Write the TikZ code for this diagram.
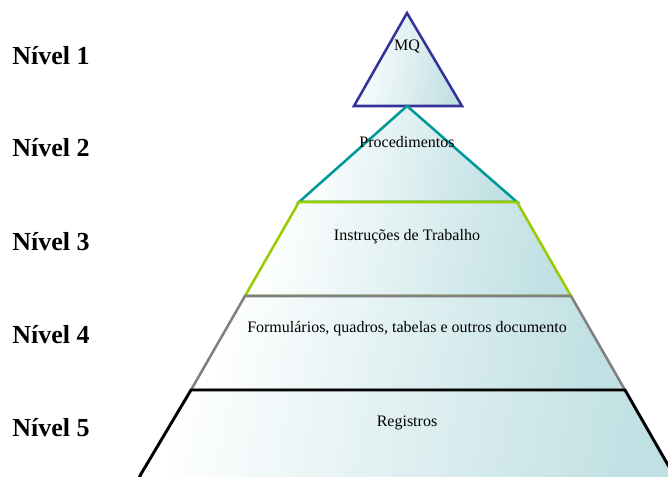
\documentclass[tikz,border=0pt]{standalone}
\usepackage{fontspec}
\setmainfont{Liberation Serif}
\begin{document}
\begin{tikzpicture}[x=0.75pt,y=-0.75pt,
  lvl/.style={left color=white, right color=tealfill, shading angle=80, line width=1.9pt, line join=miter},
  lbl/.style={font=\fontsize{19.5}{21}\selectfont\bfseries, anchor=west, inner sep=0pt},
  txt/.style={font=\fontsize{12}{14}\selectfont, text=black, inner sep=0pt}]
\definecolor{tealfill}{RGB}{192,224,227}
\definecolor{c1}{RGB}{51,51,153}
\definecolor{c2}{RGB}{0,153,153}
\definecolor{c3}{RGB}{153,204,0}
\definecolor{c4}{RGB}{128,128,128}
\useasboundingbox (0,0) rectangle (668,477);
\begin{scope}
\clip (0,0) rectangle (668,477);
\draw[lvl, draw=c1] (407,13) -- (462,106) -- (354,106) -- cycle;
\draw[lvl, draw=c2] (407,106) -- (517,202) -- (299,202) -- cycle;
\draw[lvl, draw=c3] (299,202) -- (517,202) -- (571,296) -- (245,296) -- cycle;
\draw[lvl, draw=c4] (245,296) -- (571,296) -- (625,390) -- (191,390) -- cycle;
\draw[lvl, draw=black, line width=2.2pt] (191,390) -- (625,390) -- (672,472) -- (673,490) -- (133,490) -- (141,474) -- cycle;
\end{scope}
\node[txt] (t1) at (407,47) {MQ};
\node[txt] (t2) at (407,142) {Procedimentos};
\node[txt] (t3) at (407,237) {Instruções de Trabalho};
\node[txt] (t4) at (407,329) {Formulários, quadros, tabelas e outros documento};
\node[txt] (t5) at (407,423) {Registros};
\node[lbl] (n1) at (12,56) {Nível 1};
\node[lbl] (n2) at (12,148) {Nível 2};
\node[lbl] (n3) at (12,242) {Nível 3};
\node[lbl] (n4) at (12,335) {Nível 4};
\node[lbl] (n5) at (12,428) {Nível 5};
\end{tikzpicture}
\end{document}
